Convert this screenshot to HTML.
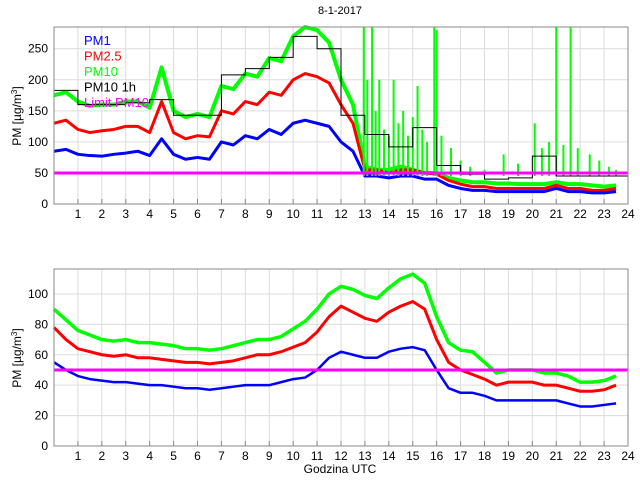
<!DOCTYPE html>
<html><head><meta charset="utf-8">
<style>
body{margin:0;background:#fff;}
svg{display:block;font-family:"Liberation Sans",sans-serif;}
</style></head>
<body>
<svg id="chart" width="640" height="480">
<text x="340" y="14" font-size="11" text-anchor="middle">8-1-2017</text>
<text x="340" y="473" font-size="12" text-anchor="middle">Godzina UTC</text>
<text transform="translate(21,116) rotate(-90)" font-size="12" text-anchor="middle">PM [µg/m<tspan dy="-4" font-size="8">3</tspan><tspan dy="4">]</tspan></text>
<text transform="translate(21,358) rotate(-90)" font-size="12" text-anchor="middle">PM [µg/m<tspan dy="-4" font-size="8">3</tspan><tspan dy="4">]</tspan></text>
</svg>
<script>
const hours = [0,0.5,1,1.5,2,2.5,3,3.5,4,4.5,5,5.5,6,6.5,7,7.5,8,8.5,9,9.5,10,10.5,11,11.5,12,12.5,13,13.5,14,14.5,15,15.5,16,16.5,17,17.5,18,18.5,19,19.5,20,20.5,21,21.5,22,22.5,23,23.5];
const topPM1 = [85,88,80,78,77,80,82,85,78,105,80,72,75,72,100,95,110,105,120,112,130,135,130,125,100,85,45,45,42,45,45,40,40,30,25,22,22,20,20,20,20,20,25,20,20,18,18,20];
const topPM25 = [130,135,120,115,118,120,125,125,115,165,115,105,110,108,150,145,165,160,180,175,200,210,205,195,160,130,55,55,50,55,55,50,48,38,32,28,28,25,25,25,25,25,30,25,25,22,22,25];
const topPM10 = [175,180,165,158,160,160,165,165,155,220,150,140,145,140,190,185,210,205,235,230,270,285,280,260,200,160,60,55,55,60,55,50,50,42,38,35,35,33,33,32,32,32,35,32,32,30,28,30];
const spikeHours = [12.95,13.1,13.3,13.45,13.6,13.8,14.0,14.2,14.4,14.6,14.8,15.0,15.2,15.4,15.6,15.9,16.0,16.2,16.6,17.0,17.4,18.0,18.8,19.4,20.1,20.4,20.7,21.0,21.3,21.6,21.9,22.4,22.8,23.2,23.5];
const spikeValues = [285,200,285,150,200,120,110,200,130,150,110,140,190,120,100,285,280,110,90,70,60,55,80,65,130,90,100,285,95,285,90,80,70,60,55];
const hourly = [183,160,160,163,168,143,143,208,218,236,270,250,143,112,92,123,62,48,40,42,77,45,45,45];
const botPM1 = [55,50,46,44,43,42,42,41,40,40,39,38,38,37,38,39,40,40,40,42,44,45,50,58,62,60,58,58,62,64,65,63,50,38,35,35,33,30,30,30,30,30,30,28,26,26,27,28];
const botPM25 = [78,70,64,62,60,59,60,58,58,57,56,55,55,54,55,56,58,60,60,62,65,68,75,85,92,88,84,82,88,92,95,90,70,55,50,47,44,40,42,42,42,40,40,38,36,36,37,40];
const botPM10 = [90,83,76,73,70,69,70,68,68,67,66,64,64,63,64,66,68,70,70,72,77,82,90,100,105,103,99,97,104,110,113,107,85,68,63,62,55,48,50,50,50,48,48,46,42,42,43,46];
const topTicks = [0,50,100,150,200,250];
const botTicks = [0,20,40,60,80,100];
const xTicks = [1,2,3,4,5,6,7,8,9,10,11,12,13,14,15,16,17,18,19,20,21,22,23,24];
const limit = 50;

const svg = document.getElementById('chart');
const NS = 'http://www.w3.org/2000/svg';
function mk(tag, attrs, parent){const e=document.createElementNS(NS,tag);for(const k in attrs)e.setAttribute(k,attrs[k]);(parent||svg).appendChild(e);return e;}
const L=54,R=628;
const xs = h => L + (R-L)*h/24;

function panel(name, top, bottom, ymax, yTicks, series, extra, showXLabels){
  const ys = v => bottom - (bottom-top)*Math.min(v,ymax)/ymax;
  const g = mk('g',{});
  
  
  xTicks.forEach(h=>{
    if(h<24){const l=mk('line',{x1:xs(h),x2:xs(h),y1:top,y2:bottom,stroke:'#dcdcdc','stroke-width':1},g);
      
      }
    const t=mk('line',{x1:xs(h),x2:xs(h),y1:bottom,y2:bottom-5,stroke:'#888'},g);
    
    
    if(showXLabels!==false){const tx=mk('text',{x:xs(h),y:bottom+14,'font-size':12,'text-anchor':'middle'},g);tx.textContent=h;
      
      }
  });
  yTicks.forEach(v=>{
    if(v>0){const l=mk('line',{x1:L,x2:R,y1:ys(v),y2:ys(v),stroke:'#dcdcdc'},g);
      
      }
    const tx=mk('text',{x:L-6,y:ys(v)+4,'font-size':12,'text-anchor':'end'},g);tx.textContent=v;
    
    
  });
  series.forEach(s=>{
    const p=mk('polyline',{points:s.vals.map((v,i)=>xs(hours[i])+','+ys(v)).join(' '),fill:'none',stroke:s.color,'stroke-width':s.w,'stroke-linejoin':'round'},g);
    
    
  });
  if(extra) extra(g,ys);
  const lim=mk('line',{x1:L,x2:R,y1:ys(limit),y2:ys(limit),stroke:'#ff00ff','stroke-width':3},g);
  
  
  const fr=mk('rect',{x:L,y:top,width:R-L,height:bottom-top,fill:'none',stroke:'#888'},g);
  
  
}

panel('top-panel',27,204,285,topTicks,[
  {name:'pm10-line',vals:topPM10,color:'#00ff00',w:4},
  {name:'pm25-line',vals:topPM25,color:'#ff0000',w:3},
  {name:'pm1-line',vals:topPM1,color:'#0000ff',w:3}
],(g,ys)=>{
  spikeHours.forEach((h,i)=>{
    const s=mk('line',{x1:xs(h),x2:xs(h),y1:ys(45),y2:ys(spikeValues[i]),stroke:'#00ff00','stroke-width':2},g);
    
    
  });
  let pts=[];
  hourly.forEach((v,i)=>{pts.push(xs(i)+','+ys(v));pts.push(xs(i+1)+','+ys(v));});
  const p=mk('polyline',{points:pts.join(' '),fill:'none',stroke:'#000','stroke-width':1},g);
  
  
});
panel('bottom-panel',269,446,116.4,botTicks,[
  {name:'pm10-line',vals:botPM10,color:'#00ff00',w:3.5},
  {name:'pm25-line',vals:botPM25,color:'#ff0000',w:3},
  {name:'pm1-line',vals:botPM1,color:'#0000ff',w:2.5}
]);

const legend=[['PM1','#0000ff'],['PM2.5','#ff0000'],['PM10','#00ff00'],['PM10 1h','#000'],['Limit PM10','#ff00ff']];
legend.forEach((l,i)=>{
  const t=mk('text',{x:84,y:45+i*15.5,'font-size':13,fill:l[1]});
  t.textContent=l[0];
  
  
});
</script>
</body></html>
